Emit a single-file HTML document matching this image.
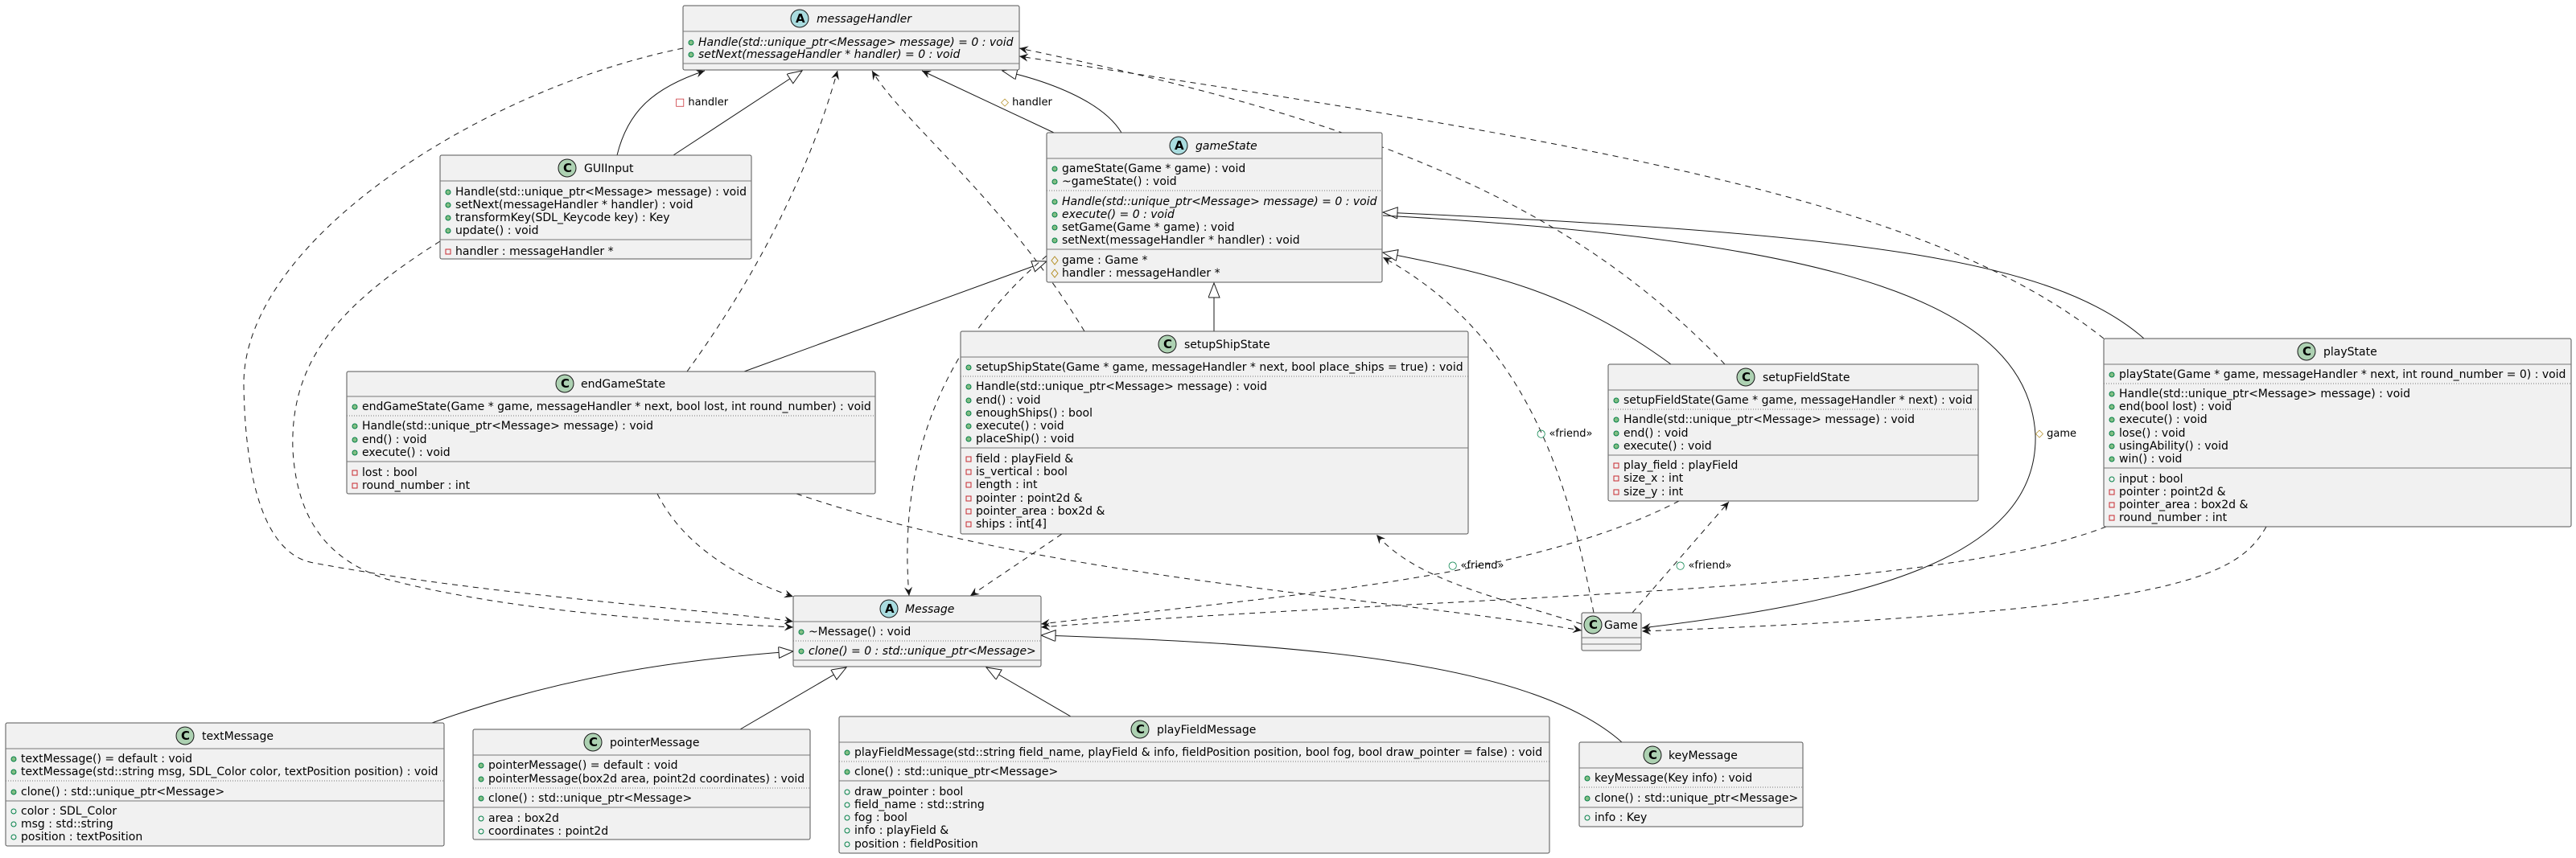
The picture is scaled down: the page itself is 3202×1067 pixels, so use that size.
<!DOCTYPE html>
<html><head><meta charset="utf-8"><style>
html,body{margin:0;padding:0;background:#fff}
svg{display:block}
text{font-family:"DejaVu Sans","Liberation Sans",sans-serif;font-size:14px;fill:#000}
.n{font-size:14px}
.i{font-style:italic}
.lbl{font-size:13px}
.box{fill:#F1F1F1;stroke:#555;stroke-width:1}
.sep{stroke:#777;stroke-width:1}
.dot{stroke:#777;stroke-width:1;stroke-dasharray:1,2}
.ln{fill:none;stroke:#181818;stroke-width:1}
.da{fill:none;stroke:#181818;stroke-width:1;stroke-dasharray:7,6}
.pub{fill:#84BE84;stroke:#038048;stroke-width:1}
.pubf{fill:none;stroke:#038048;stroke-width:1}
.pri{fill:none;stroke:#C82930;stroke-width:1}
.pro{fill:none;stroke:#B38D22;stroke-width:1}
.cC{fill:#ADD1B2;stroke:#181818;stroke-width:1}
.cA{fill:#A9DCDF;stroke:#181818;stroke-width:1}
.ct{font-weight:bold;font-size:15px}
</style></head><body>
<svg width="3202" height="1067" viewBox="0 0 3202 1067" xmlns="http://www.w3.org/2000/svg">
<defs>
<marker id="ar" markerUnits="userSpaceOnUse" markerWidth="14" markerHeight="12" refX="11" refY="5" orient="auto"><path d="M0,0 L11,5 L0,10 L4,5 Z" fill="#181818"/></marker>
<marker id="tr" markerUnits="userSpaceOnUse" markerWidth="22" markerHeight="16" refX="19" refY="7" orient="auto"><path d="M1,0 L19,7 L1,14 Z" fill="#fff" stroke="#181818" stroke-width="1"/></marker>
</defs>

<!-- connectors -->
<!-- GUIInput -> messageHandler -->
<path class="ln" d="M767,193 C780,140 810,110 876,88" marker-end="url(#ar)"/>
<text class="lbl" x="839" y="131"><tspan fill="#C82930">□</tspan> handler</text>
<path class="ln" d="M837,193 L997,88" marker-end="url(#tr)"/>
<!-- gameState -> messageHandler -->
<path class="ln" d="M1310,165 L1146,88" marker-end="url(#ar)"/>
<text class="lbl" x="1244" y="131"><tspan fill="#B38D22">◇</tspan> handler</text>
<path class="ln" d="M1394,165 C1370,125 1300,100 1246,88" marker-end="url(#tr)"/>
<!-- messageHandler -> Message (outer dashed) -->
<path class="da" d="M849,60 C600,110 300,300 303,480 C305,600 330,690 390,700 C600,740 900,760 986,773" marker-end="url(#ar)"/>
<!-- GUIInput -> Message -->
<path class="da" d="M547,300 C420,380 360,450 364,560 C370,660 420,700 480,720 C650,765 880,775 986,780" marker-end="url(#ar)"/>
<!-- endGameState -> messageHandler -->
<path class="da" d="M854,462 C950,330 1010,200 1041,88" marker-end="url(#ar)"/>
<!-- setupShipState -> messageHandler -->
<path class="da" d="M1348,412 C1250,250 1120,150 1084,88" marker-end="url(#ar)"/>
<!-- setupFieldState -> messageHandler -->
<path class="da" d="M2144,453 C1950,250 1700,150 1267,60" marker-end="url(#ar)"/>
<!-- playState -> messageHandler -->
<path class="da" d="M2615,421 C2400,250 2000,180 1267,70" marker-end="url(#ar)"/>
<!-- endGameState -> gameState -->
<path class="ln" d="M925,462 L1301,325" marker-end="url(#tr)"/>
<!-- setupShipState -> gameState -->
<path class="ln" d="M1509,412 L1509,352" marker-end="url(#tr)"/>
<!-- setupFieldState -> gameState -->
<path class="ln" d="M2077,453 C1950,360 1850,340 1719,314" marker-end="url(#tr)"/>
<!-- playState -> gameState -->
<path class="ln" d="M2665,421 C2550,320 2300,290 1719,264" marker-end="url(#tr)"/>
<!-- gameState -> Game (#game) -->
<path class="ln" d="M1719,268 C2300,300 2520,380 2530,540 C2535,700 2300,750 2041,781" marker-end="url(#ar)"/>
<text class="lbl" x="2530" y="543"><tspan fill="#B38D22">◇</tspan> game</text>
<!-- gameState -> Message -->
<path class="da" d="M1301,318 C1180,420 1115,560 1130,741" marker-end="url(#ar)"/>
<!-- Game -> gameState friend -->
<path class="da" d="M1981,762 C1950,600 1900,420 1719,320" marker-end="url(#ar)"/>
<text class="lbl" x="1910" y="543"><tspan fill="#038048">○</tspan> «friend»</text>
<!-- setupShipState -> Message -->
<path class="da" d="M1320,664 L1206,741" marker-end="url(#ar)"/>
<!-- endGameState -> Message -->
<path class="da" d="M817,614 C850,680 920,720 986,742" marker-end="url(#ar)"/>
<!-- endGameState -> Game -->
<path class="da" d="M990,614 C1300,720 1700,740 1966,784" marker-end="url(#ar)"/>
<!-- Game -> setupShipState friend -->
<path class="da" d="M1966,776 C1850,740 1760,720 1711,665" marker-end="url(#ar)"/>
<text class="lbl" x="1800" y="707"><tspan fill="#038048">○</tspan> «friend»</text>
<!-- Game -> setupFieldState friend -->
<path class="da" d="M2029,762 L2149,624" marker-end="url(#ar)"/>
<text class="lbl" x="2083" y="707"><tspan fill="#038048">○</tspan> «friend»</text>
<!-- setupFieldState -> Message -->
<path class="da" d="M2087,623 C1900,720 1600,740 1294,776" marker-end="url(#ar)"/>
<!-- playState -> Message -->
<path class="da" d="M2618,655 C2400,740 1800,740 1294,780" marker-end="url(#ar)"/>
<!-- playState -> Game -->
<path class="da" d="M2817,655 C2780,720 2700,760 2041,785" marker-end="url(#ar)"/>
<!-- Message generalizations -->
<path class="ln" d="M537,899 C700,840 850,820 986,810" marker-end="url(#tr)"/>
<path class="ln" d="M920,907 L1052,830" marker-end="url(#tr)"/>
<path class="ln" d="M1331,891 L1226,830" marker-end="url(#tr)"/>
<path class="ln" d="M2016,923 C1900,820 1600,800 1294,790" marker-end="url(#tr)"/>

<!-- messageHandler -->
<rect class="box" x="849" y="7" width="418" height="80" rx="2"/>
<line class="sep" x1="849" y1="39" x2="1267" y2="39"/><line class="sep" x1="849" y1="79" x2="1267" y2="79"/>
<circle class="cA" cx="994" cy="23" r="11"/><text class="ct" x="989" y="28">A</text>
<text class="n i" x="1015" y="28">messageHandler</text>
<circle class="pub" cx="859" cy="53" r="3"/><text class="i" x="868" y="57">Handle(std::unique_ptr&lt;Message&gt; message) = 0 : void</text>
<circle class="pub" cx="859" cy="68" r="3"/><text class="i" x="868" y="72">setNext(messageHandler * handler) = 0 : void</text>

<!-- GUIInput -->
<rect class="box" x="547" y="193" width="387" height="129" rx="2"/>
<line class="sep" x1="547" y1="225" x2="934" y2="225"/><line class="sep" x1="547" y1="298" x2="934" y2="298"/>
<circle class="cC" cx="705" cy="209" r="11"/><text class="ct" x="700" y="214">C</text>
<text class="n" x="726" y="214">GUIInput</text>
<circle class="pub" cx="557" cy="239" r="3"/><text x="566" y="243">Handle(std::unique_ptr&lt;Message&gt; message) : void</text>
<circle class="pub" cx="557" cy="255" r="3"/><text x="566" y="259">setNext(messageHandler * handler) : void</text>
<circle class="pub" cx="557" cy="271" r="3"/><text x="566" y="275">transformKey(SDL_Keycode key) : Key</text>
<circle class="pub" cx="557" cy="287" r="3"/><text x="566" y="291">update() : void</text>
<rect class="pri" x="554" y="310" width="6" height="6"/><text x="566" y="317">handler : messageHandler *</text>

<!-- gameState -->
<rect class="box" x="1301" y="165" width="417" height="186" rx="2"/>
<line class="sep" x1="1301" y1="197" x2="1718" y2="197"/><line class="dot" x1="1301" y1="237" x2="1718" y2="237"/><line class="sep" x1="1301" y1="310" x2="1718" y2="310"/>
<circle class="cA" cx="1465" cy="181" r="11"/><text class="ct" x="1460" y="186">A</text>
<text class="n i" x="1486" y="186">gameState</text>
<circle class="pub" cx="1311" cy="210" r="3"/><text x="1320" y="214">gameState(Game * game) : void</text>
<circle class="pub" cx="1311" cy="226" r="3"/><text x="1320" y="230">~gameState() : void</text>
<circle class="pub" cx="1311" cy="251" r="3"/><text class="i" x="1320" y="255">Handle(std::unique_ptr&lt;Message&gt; message) = 0 : void</text>
<circle class="pub" cx="1311" cy="267" r="3"/><text class="i" x="1320" y="271">execute() = 0 : void</text>
<circle class="pub" cx="1311" cy="283" r="3"/><text x="1320" y="287">setGame(Game * game) : void</text>
<circle class="pub" cx="1311" cy="299" r="3"/><text x="1320" y="303">setNext(messageHandler * handler) : void</text>
<path class="pro" d="M1311,319 L1315,324 L1311,329 L1307,324 Z"/><text x="1320" y="328">game : Game *</text>
<path class="pro" d="M1311,335 L1315,340 L1311,345 L1307,340 Z"/><text x="1320" y="344">handler : messageHandler *</text>

<!-- setupShipState -->
<rect class="box" x="1194" y="412" width="631" height="252" rx="2"/>
<line class="sep" x1="1194" y1="444" x2="1825" y2="444"/><line class="dot" x1="1194" y1="468" x2="1825" y2="468"/><line class="sep" x1="1194" y1="557" x2="1825" y2="557"/>
<circle class="cC" cx="1451" cy="428" r="11"/><text class="ct" x="1446" y="433">C</text>
<text class="n" x="1472" y="433">setupShipState</text>
<circle class="pub" cx="1204" cy="457" r="3"/><text x="1213" y="461">setupShipState(Game * game, messageHandler * next, bool place_ships = true) : void</text>
<circle class="pub" cx="1204" cy="481" r="3"/><text x="1213" y="485">Handle(std::unique_ptr&lt;Message&gt; message) : void</text>
<circle class="pub" cx="1204" cy="498" r="3"/><text x="1213" y="502">end() : void</text>
<circle class="pub" cx="1204" cy="514" r="3"/><text x="1213" y="518">enoughShips() : bool</text>
<circle class="pub" cx="1204" cy="530" r="3"/><text x="1213" y="534">execute() : void</text>
<circle class="pub" cx="1204" cy="546" r="3"/><text x="1213" y="550">placeShip() : void</text>
<rect class="pri" x="1201" y="568" width="6" height="6"/><text x="1213" y="575">field : playField &amp;</text>
<rect class="pri" x="1201" y="584" width="6" height="6"/><text x="1213" y="591">is_vertical : bool</text>
<rect class="pri" x="1201" y="600" width="6" height="6"/><text x="1213" y="607">length : int</text>
<rect class="pri" x="1201" y="617" width="6" height="6"/><text x="1213" y="624">pointer : point2d &amp;</text>
<rect class="pri" x="1201" y="633" width="6" height="6"/><text x="1213" y="640">pointer_area : box2d &amp;</text>
<rect class="pri" x="1201" y="649" width="6" height="6"/><text x="1213" y="656">ships : int[4]</text>

<!-- endGameState -->
<rect class="box" x="431" y="462" width="657" height="152" rx="2"/>
<line class="sep" x1="431" y1="493" x2="1088" y2="493"/><line class="dot" x1="431" y1="517" x2="1088" y2="517"/><line class="sep" x1="431" y1="574" x2="1088" y2="574"/>
<circle class="cC" cx="702" cy="477" r="11"/><text class="ct" x="697" y="482">C</text>
<text class="n" x="722" y="482">endGameState</text>
<circle class="pub" cx="441" cy="506" r="3"/><text x="450" y="510">endGameState(Game * game, messageHandler * next, bool lost, int round_number) : void</text>
<circle class="pub" cx="441" cy="530" r="3"/><text x="450" y="534">Handle(std::unique_ptr&lt;Message&gt; message) : void</text>
<circle class="pub" cx="441" cy="547" r="3"/><text x="450" y="551">end() : void</text>
<circle class="pub" cx="441" cy="563" r="3"/><text x="450" y="567">execute() : void</text>
<rect class="pri" x="438" y="585" width="6" height="6"/><text x="450" y="592">lost : bool</text>
<rect class="pri" x="438" y="601" width="6" height="6"/><text x="450" y="608">round_number : int</text>

<!-- setupFieldState -->
<rect class="box" x="1999" y="453" width="460" height="170" rx="2"/>
<line class="sep" x1="1999" y1="485" x2="2459" y2="485"/><line class="dot" x1="1999" y1="509" x2="2459" y2="509"/><line class="sep" x1="1999" y1="566" x2="2459" y2="566"/>
<circle class="cC" cx="2170" cy="469" r="11"/><text class="ct" x="2165" y="474">C</text>
<text class="n" x="2191" y="474">setupFieldState</text>
<circle class="pub" cx="2009" cy="498" r="3"/><text x="2018" y="502">setupFieldState(Game * game, messageHandler * next) : void</text>
<circle class="pub" cx="2009" cy="522" r="3"/><text x="2018" y="526">Handle(std::unique_ptr&lt;Message&gt; message) : void</text>
<circle class="pub" cx="2009" cy="539" r="3"/><text x="2018" y="543">end() : void</text>
<circle class="pub" cx="2009" cy="555" r="3"/><text x="2018" y="559">execute() : void</text>
<rect class="pri" x="2006" y="576" width="6" height="6"/><text x="2018" y="583">play_field : playField</text>
<rect class="pri" x="2006" y="592" width="6" height="6"/><text x="2018" y="599">size_x : int</text>
<rect class="pri" x="2006" y="609" width="6" height="6"/><text x="2018" y="616">size_y : int</text>

<!-- playState -->
<rect class="box" x="2615" y="421" width="581" height="234" rx="2"/>
<line class="sep" x1="2615" y1="453" x2="3196" y2="453"/><line class="dot" x1="2615" y1="477" x2="3196" y2="477"/><line class="sep" x1="2615" y1="582" x2="3196" y2="582"/>
<circle class="cC" cx="2867" cy="437" r="11"/><text class="ct" x="2862" y="442">C</text>
<text class="n" x="2888" y="442">playState</text>
<circle class="pub" cx="2625" cy="466" r="3"/><text x="2634" y="470">playState(Game * game, messageHandler * next, int round_number = 0) : void</text>
<circle class="pub" cx="2625" cy="490" r="3"/><text x="2634" y="494">Handle(std::unique_ptr&lt;Message&gt; message) : void</text>
<circle class="pub" cx="2625" cy="506" r="3"/><text x="2634" y="510">end(bool lost) : void</text>
<circle class="pub" cx="2625" cy="522" r="3"/><text x="2634" y="526">execute() : void</text>
<circle class="pub" cx="2625" cy="539" r="3"/><text x="2634" y="543">lose() : void</text>
<circle class="pub" cx="2625" cy="555" r="3"/><text x="2634" y="559">usingAbility() : void</text>
<circle class="pub" cx="2625" cy="571" r="3"/><text x="2634" y="575">win() : void</text>
<circle class="pubf" cx="2625" cy="596" r="3"/><text x="2634" y="600">input : bool</text>
<rect class="pri" x="2622" y="609" width="6" height="6"/><text x="2634" y="616">pointer : point2d &amp;</text>
<rect class="pri" x="2622" y="625" width="6" height="6"/><text x="2634" y="632">pointer_area : box2d &amp;</text>
<rect class="pri" x="2622" y="641" width="6" height="6"/><text x="2634" y="648">round_number : int</text>

<!-- Message -->
<rect class="box" x="986" y="741" width="308" height="88" rx="2"/>
<line class="sep" x1="986" y1="773" x2="1294" y2="773"/><line class="dot" x1="986" y1="797" x2="1294" y2="797"/><line class="sep" x1="986" y1="821" x2="1294" y2="821"/>
<circle class="cA" cx="1105" cy="757" r="11"/><text class="ct" x="1100" y="762">A</text>
<text class="n i" x="1125" y="762">Message</text>
<circle class="pub" cx="996" cy="786" r="3"/><text x="1005" y="790">~Message() : void</text>
<circle class="pub" cx="996" cy="810" r="3"/><text class="i" x="1005" y="814">clone() = 0 : std::unique_ptr&lt;Message&gt;</text>

<!-- Game -->
<rect class="box" x="1966" y="762" width="74" height="47" rx="2"/>
<line class="sep" x1="1966" y1="793" x2="2040" y2="793"/><line class="sep" x1="1966" y1="801" x2="2040" y2="801"/>
<circle class="cC" cx="1980" cy="777" r="11"/><text class="ct" x="1975" y="782">C</text>
<text class="n" x="1994" y="782">Game</text>

<!-- textMessage -->
<rect class="box" x="7" y="899" width="545" height="153" rx="2"/>
<line class="sep" x1="7" y1="931" x2="552" y2="931"/><line class="dot" x1="7" y1="971" x2="552" y2="971"/><line class="sep" x1="7" y1="996" x2="552" y2="996"/>
<circle class="cC" cx="230" cy="915" r="11"/><text class="ct" x="225" y="920">C</text>
<text class="n" x="251" y="920">textMessage</text>
<circle class="pub" cx="17" cy="944" r="3"/><text x="26" y="948">textMessage() = default : void</text>
<circle class="pub" cx="17" cy="960" r="3"/><text x="26" y="964">textMessage(std::string msg, SDL_Color color, textPosition position) : void</text>
<circle class="pub" cx="17" cy="985" r="3"/><text x="26" y="989">clone() : std::unique_ptr&lt;Message&gt;</text>
<circle class="pubf" cx="17" cy="1009" r="3"/><text x="26" y="1013">color : SDL_Color</text>
<circle class="pubf" cx="17" cy="1025" r="3"/><text x="26" y="1029">msg : std::string</text>
<circle class="pubf" cx="17" cy="1041" r="3"/><text x="26" y="1045">position : textPosition</text>

<!-- pointerMessage -->
<rect class="box" x="588" y="907" width="419" height="137" rx="2"/>
<line class="sep" x1="588" y1="939" x2="1007" y2="939"/><line class="dot" x1="588" y1="980" x2="1007" y2="980"/><line class="sep" x1="588" y1="1004" x2="1007" y2="1004"/>
<circle class="cC" cx="737" cy="923" r="11"/><text class="ct" x="732" y="928">C</text>
<text class="n" x="758" y="928">pointerMessage</text>
<circle class="pub" cx="598" cy="952" r="3"/><text x="607" y="956">pointerMessage() = default : void</text>
<circle class="pub" cx="598" cy="969" r="3"/><text x="607" y="973">pointerMessage(box2d area, point2d coordinates) : void</text>
<circle class="pub" cx="598" cy="993" r="3"/><text x="607" y="997">clone() : std::unique_ptr&lt;Message&gt;</text>
<circle class="pubf" cx="598" cy="1018" r="3"/><text x="607" y="1022">area : box2d</text>
<circle class="pubf" cx="598" cy="1034" r="3"/><text x="607" y="1038">coordinates : point2d</text>

<!-- playFieldMessage -->
<rect class="box" x="1043" y="891" width="883" height="170" rx="2"/>
<line class="sep" x1="1043" y1="923" x2="1926" y2="923"/><line class="dot" x1="1043" y1="947" x2="1926" y2="947"/><line class="sep" x1="1043" y1="971" x2="1926" y2="971"/>
<circle class="cC" cx="1417" cy="907" r="11"/><text class="ct" x="1412" y="912">C</text>
<text class="n" x="1438" y="912">playFieldMessage</text>
<circle class="pub" cx="1053" cy="936" r="3"/><text x="1062" y="940">playFieldMessage(std::string field_name, playField &amp; info, fieldPosition position, bool fog, bool draw_pointer = false) : void</text>
<circle class="pub" cx="1053" cy="960" r="3"/><text x="1062" y="964">clone() : std::unique_ptr&lt;Message&gt;</text>
<circle class="pubf" cx="1053" cy="985" r="3"/><text x="1062" y="989">draw_pointer : bool</text>
<circle class="pubf" cx="1053" cy="1001" r="3"/><text x="1062" y="1005">field_name : std::string</text>
<circle class="pubf" cx="1053" cy="1017" r="3"/><text x="1062" y="1021">fog : bool</text>
<circle class="pubf" cx="1053" cy="1033" r="3"/><text x="1062" y="1037">info : playField &amp;</text>
<circle class="pubf" cx="1053" cy="1050" r="3"/><text x="1062" y="1054">position : fieldPosition</text>

<!-- keyMessage -->
<rect class="box" x="1963" y="923" width="278" height="105" rx="2"/>
<line class="sep" x1="1963" y1="955" x2="2241" y2="955"/><line class="dot" x1="1963" y1="979" x2="2241" y2="979"/><line class="sep" x1="1963" y1="1004" x2="2241" y2="1004"/>
<circle class="cC" cx="2054" cy="939" r="11"/><text class="ct" x="2049" y="944">C</text>
<text class="n" x="2074" y="944">keyMessage</text>
<circle class="pub" cx="1973" cy="968" r="3"/><text x="1982" y="972">keyMessage(Key info) : void</text>
<circle class="pub" cx="1973" cy="993" r="3"/><text x="1982" y="997">clone() : std::unique_ptr&lt;Message&gt;</text>
<circle class="pubf" cx="1973" cy="1017" r="3"/><text x="1982" y="1021">info : Key</text>
</svg>
</body></html>
